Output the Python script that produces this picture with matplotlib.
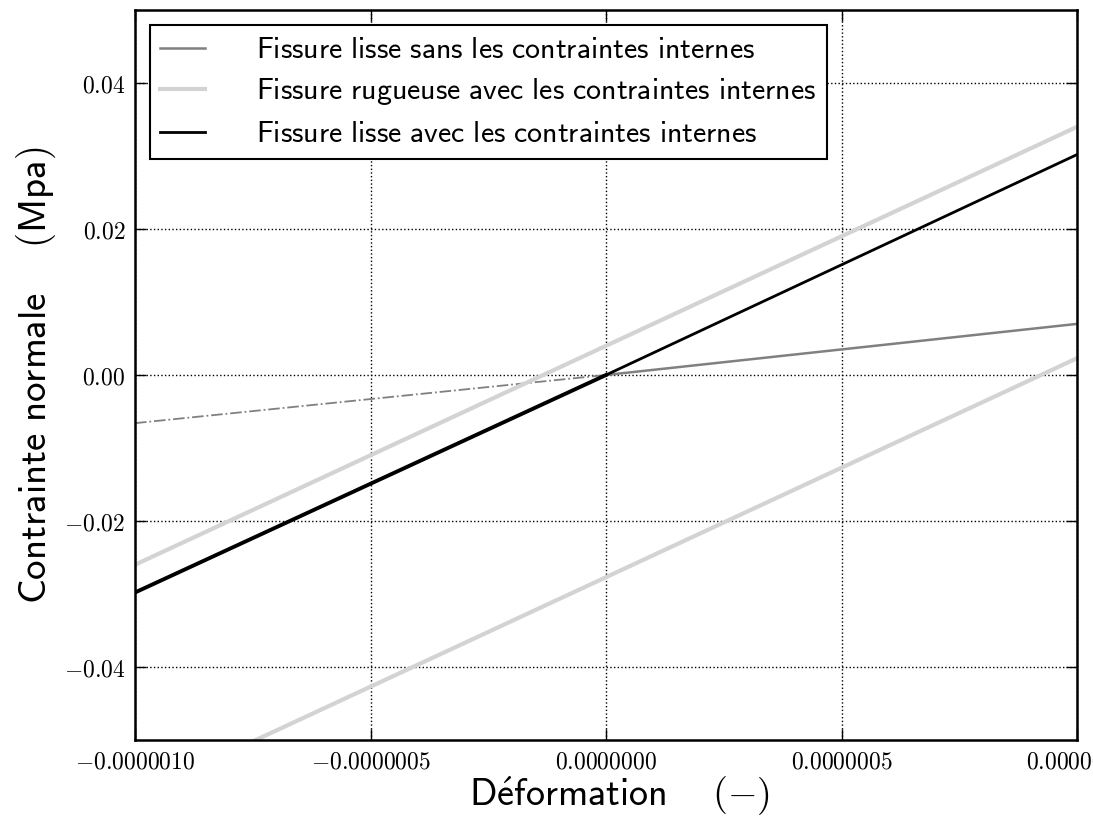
import matplotlib
matplotlib.use('Agg')
import matplotlib.pyplot as plt
import numpy as np

plt.rcParams['mathtext.fontset'] = 'cm'

# data
eps_full = [-1e-6, 1e-6]
eps_neg = [-1e-6, 0.0]
eps_pos = [0.0, 1e-6]
lisse_sans_pos = [0.0, 0.0070]
lisse_sans_neg = [-0.0066, 0.0]
rugueuse_haut = [-0.0260, 0.0340]
rugueuse_bas = [-0.0577, 0.0023]
lisse_avec_neg = [-0.0298, 0.0]
lisse_avec_pos = [0.0, 0.0302]

xticks = [-1e-6, -5e-7, 0.0, 5e-7, 1e-6]
xticklabels = ['$-0.0000010$', '$-0.0000005$', '$0.0000000$', '$0.0000005$', '$0.0000010$']
yticks = [-0.04, -0.02, 0.0, 0.02, 0.04]
yticklabels = ['$-0.04$', '$-0.02$', '$0.00$', '$0.02$', '$0.04$']

fig = plt.figure(figsize=(10.93, 8.18), dpi=100)
ax = fig.add_axes([0.1235, 0.0954, 0.862, 0.8924])

ax.plot(eps_pos, lisse_sans_pos, color='#808080', lw=1.8,
        label=r'$\mathsf{Fissure\ lisse\ sans\ les\ contraintes\ internes}$')
ax.plot(eps_neg, lisse_sans_neg, color='#808080', lw=1.3, ls='-.')
ax.plot(eps_full, rugueuse_haut, color='#d3d3d3', lw=3,
        label=r'$\mathsf{Fissure\ rugueuse\ avec\ les\ contraintes\ internes}$')
ax.plot(eps_full, rugueuse_bas, color='#d3d3d3', lw=3)
ax.plot(eps_neg, lisse_avec_neg, color='black', lw=2.8)
ax.plot(eps_pos, lisse_avec_pos, color='black', lw=2,
        label=r'$\mathsf{Fissure\ lisse\ avec\ les\ contraintes\ internes}$')

ax.set_xlim(-1e-6, 1e-6)
ax.set_ylim(-0.05, 0.05)
ax.set_xticks(xticks)
ax.set_xticklabels(xticklabels, fontsize=17)
ax.set_yticks(yticks)
ax.set_yticklabels(yticklabels, fontsize=17)
ax.tick_params(direction='in', length=8, width=1, top=True, right=True, pad=7)
ax.grid(True, color='black', ls=':', lw=1)
for s in ax.spines.values():
    s.set_linewidth(1.8)

ax.set_xlabel(r'$\mathsf{D\acute{e}formation}\quad\ (-)$', fontsize=27.5, labelpad=0.5)
ax.xaxis.label.set_x(0.514)
ax.set_ylabel(r'$\mathsf{Contrainte\ normale}\quad\ (\mathsf{Mpa})$', fontsize=28)

leg = ax.legend(loc='upper left', fontsize=21.5, fancybox=False, framealpha=1,
                edgecolor='black', handlelength=1.5, handletextpad=1.7,
                borderaxespad=0.5, labelspacing=0.4, borderpad=0.35)
leg.get_frame().set_linewidth(1.5)

fig.savefig('out.png', dpi=100)
